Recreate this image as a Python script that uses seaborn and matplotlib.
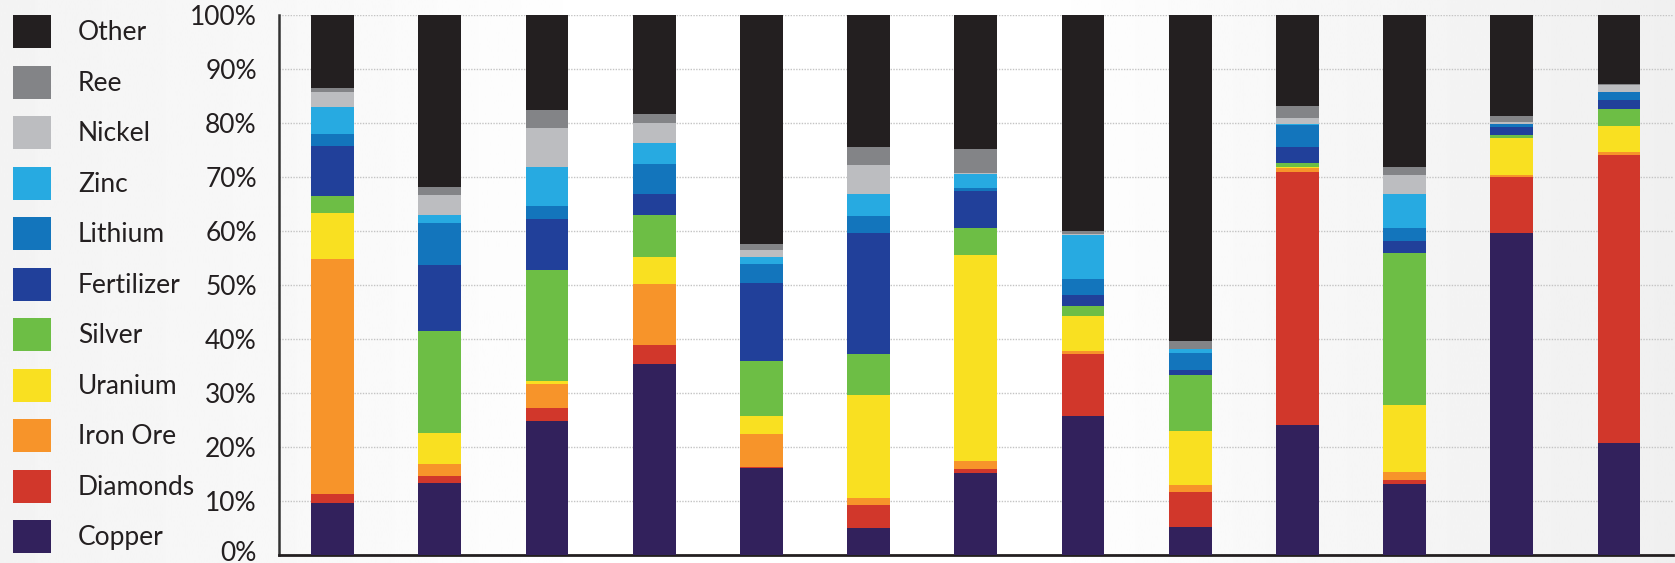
import numpy as np
import pandas as pd
import matplotlib
matplotlib.use("Agg")
import matplotlib.pyplot as plt
import matplotlib.transforms as mtransforms
from matplotlib.patches import Patch
import seaborn as sns

# ---- data: share (%) of each commodity in each of the 13 columns ----
bars = list(range(13))
commodities = ["Other", "Ree", "Nickel", "Zinc", "Lithium", "Fertilizer",
               "Silver", "Uranium", "Iron Ore", "Diamonds", "Copper"]

copper     = [9.6, 13.3, 24.8, 35.4, 16.1, 5.0, 15.2, 25.7, 5.2, 24.1, 13.1, 59.6, 20.7]
diamonds   = [1.7, 1.3, 2.4, 3.5, 0.2, 4.3, 0.7, 11.5, 6.5, 46.8, 0.8, 10.4, 53.4]
iron_ore   = [43.5, 2.3, 4.5, 11.3, 6.1, 1.3, 1.5, 0.6, 1.3, 0.7, 1.5, 0.4, 0.5]
uranium    = [8.5, 5.7, 0.5, 5.0, 3.3, 19.0, 38.2, 6.5, 10.0, 0.3, 12.4, 6.8, 4.8]
silver     = [3.2, 18.9, 20.6, 7.8, 10.2, 7.6, 5.0, 1.8, 10.3, 0.7, 28.1, 0.6, 3.2]
fertilizer = [9.2, 12.2, 9.4, 3.9, 14.5, 22.4, 6.9, 2.0, 1.0, 3.0, 2.2, 1.5, 1.7]
lithium    = [2.3, 7.8, 2.4, 5.5, 3.5, 3.2, 0.4, 3.0, 3.1, 4.0, 2.5, 0.5, 1.4]
zinc       = [5.0, 1.5, 7.3, 3.9, 1.3, 4.1, 2.6, 8.1, 0.7, 0.2, 6.3, 0.0, 0.0]
nickel     = [2.7, 3.7, 7.2, 3.7, 1.3, 5.3, 0.2, 0.3, 0.0, 1.1, 3.5, 0.4, 1.3]
ree        = [0.8, 1.4, 3.3, 1.7, 1.1, 3.4, 4.5, 0.5, 1.5, 2.2, 1.5, 1.1, 0.2]
other      = [13.5, 31.9, 17.6, 18.3, 42.4, 24.4, 24.8, 40.0, 60.4, 16.9, 28.1, 18.7, 12.8]

series = {
    "Other": other, "Ree": ree, "Nickel": nickel, "Zinc": zinc,
    "Lithium": lithium, "Fertilizer": fertilizer, "Silver": silver,
    "Uranium": uranium, "Iron Ore": iron_ore, "Diamonds": diamonds,
    "Copper": copper,
}

colors = {
    "Other": "#231f20", "Ree": "#838487", "Nickel": "#bcbdc0",
    "Zinc": "#27aae1", "Lithium": "#1375bc", "Fertilizer": "#21409a",
    "Silver": "#6dbe45", "Uranium": "#f9e021", "Iron Ore": "#f7942a",
    "Diamonds": "#d1372b", "Copper": "#32215c",
}

y_ticks = [0, 10, 20, 30, 40, 50, 60, 70, 80, 90, 100]
y_tick_labels = [f"{v}%" for v in y_ticks]

df = pd.DataFrame(
    [(b, name, series[name][i]) for name in commodities for i, b in enumerate(bars)],
    columns=["bar", "commodity", "share"],
)

# ---- styling ----
sns.set_theme(style="white")
plt.rcParams["font.family"] = ["Lato", "DejaVu Sans"]
text_color = "#231f20"

W, H = 1675, 563
fig = plt.figure(figsize=(W / 100, H / 100), dpi=100)
fig.patch.set_facecolor("#f7f7f7")

# soft horizontal backdrop: light grey at the edges, white in the middle
bg = fig.add_axes([0, 0, 1, 1], zorder=-10)
xs = np.linspace(0, 1, 600)
shade = np.interp(xs, [0.0, 0.2, 0.36, 0.62, 0.78, 1.0],
                  [0.955, 0.975, 1.0, 1.0, 0.968, 0.94])
bg.imshow(shade[None, :], cmap="gray", vmin=0, vmax=1, aspect="auto",
          extent=[0, 1, 0, 1])
bg.axis("off")

ax = fig.add_axes([279 / W, 8 / H, 1393.6 / W, 540 / H])
ax.set_facecolor("none")

sns.histplot(
    data=df, x="bar", weights="share", hue="commodity",
    hue_order=commodities, palette=colors, multiple="stack",
    discrete=True, shrink=0.4, linewidth=0, alpha=1, legend=False,
    ax=ax, zorder=3,
)

fs = 19
px = fs * 100 / 72

ax.set_xlim(-0.5, len(bars) - 0.5)
ax.set_ylim(0, 100)
ax.set_xlabel("")
ax.set_ylabel("")

ax.set_yticks(y_ticks)
ax.set_yticklabels(y_tick_labels)
ax.tick_params(axis="y", length=0, pad=16, labelsize=fs, labelcolor=text_color)

# lift the "0%" label a little so it clears the lower edge
zero_label = ax.get_yticklabels()[0]
zero_label.set_transform(zero_label.get_transform()
                         + mtransforms.ScaledTranslation(0, 4 / 100, fig.dpi_scale_trans))

ax.set_xticks(np.arange(-0.5, len(bars), 1.0))
ax.set_xticklabels([])
ax.tick_params(axis="x", direction="in", length=9, width=1.6, color=text_color)

ax.yaxis.grid(True, linestyle=(0, (1, 1)), color="#c4c4c4", linewidth=1.0)
ax.xaxis.grid(False)
ax.set_axisbelow(True)

for side in ("top", "right"):
    ax.spines[side].set_visible(False)
ax.spines["left"].set_color("#333333")
ax.spines["left"].set_linewidth(1.8)
ax.spines["bottom"].set_color(text_color)
ax.spines["bottom"].set_linewidth(2.0)

# legend: Other at the top, Copper at the bottom; swatches about 38 x 33 px,
# rows 50.5 px apart
swatch_h = 33 / px
handle_h = (swatch_h - 0.245) / 0.65
handles = [Patch(facecolor=colors[c], edgecolor="none") for c in commodities]
fig.legend(
    handles, commodities, loc="upper left",
    bbox_to_anchor=(13 / W, 1 - 15 / H), bbox_transform=fig.transFigure,
    frameon=False, borderpad=0, borderaxespad=0,
    handlelength=38 / px, handleheight=handle_h, handletextpad=27 / px,
    labelspacing=(50.5 - 33) / px, fontsize=fs, labelcolor=text_color,
)

fig.savefig("out.png", dpi=100, facecolor=fig.get_facecolor())
